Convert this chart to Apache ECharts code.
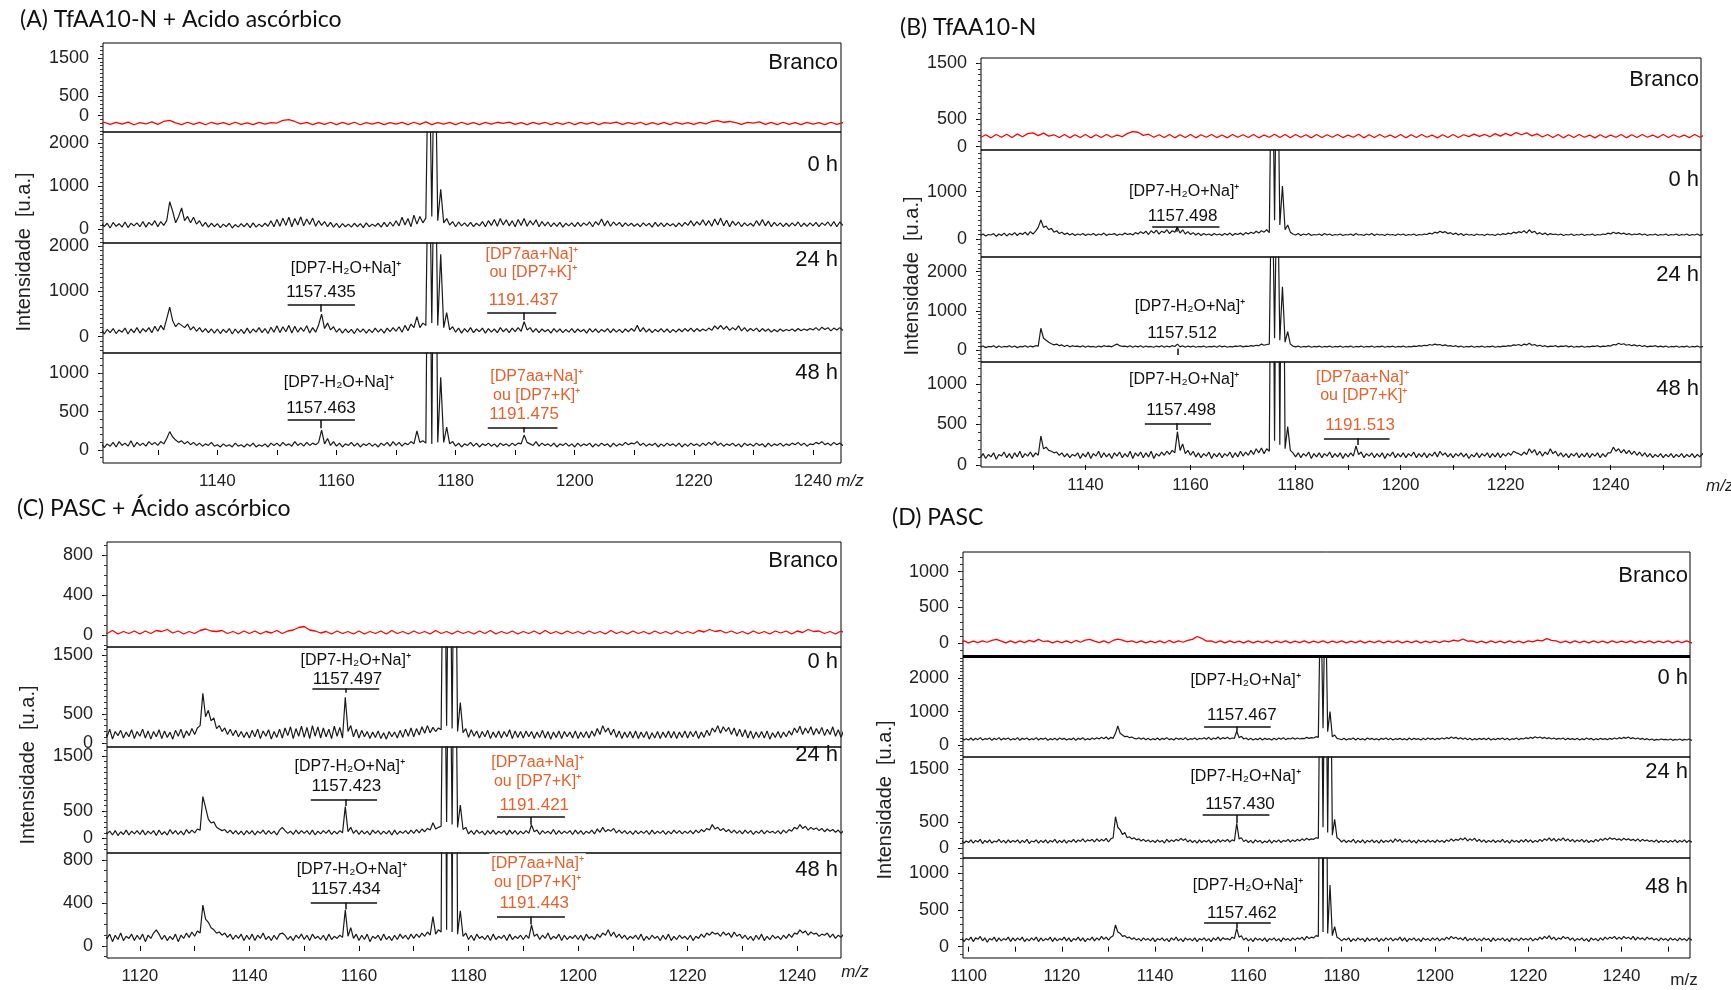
<!DOCTYPE html>
<html><head><meta charset="utf-8">
<script src="https://cdn.jsdelivr.net/npm/echarts@6/dist/echarts.min.js"></script>
<style>html,body{margin:0;padding:0;background:#fff}#c{width:1731px;height:990px}</style>
</head><body><div id="c"></div><script>
// ---------- DATA (m/z step 0.5 for spectra, 1 for blanks; one row = 10 m/z units) ----------
const STEP = 0.5, RED_STEP = 1;
const A_START = 1120, B_START = 1120, C_START = 1110, D_START = 1090;
const A_RED_START = 1120, B_RED_START = 1120, C_RED_START = 1110, D_RED_START = 1090;

const A_branco = [
[-230,-170,-225,-175,-220,-165,-235,-180,-215,-160],
[-225,-150,-120,-185,-230,-170,-225,-175,-235,-170],
[-220,-180,-230,-170,-225,-185,-230,-175,-220,-180],
[-190,-120,-100,-150,-210,-175,-230,-180,-225,-170],
[-230,-175,-225,-170,-235,-180,-220,-175,-230,-180],
[-220,-175,-230,-170,-225,-160,-230,-180,-220,-175],
[-230,-170,-225,-180,-230,-175,-220,-170,-200,-165],
[-225,-180,-230,-175,-220,-170,-230,-180,-225,-170],
[-230,-175,-220,-170,-230,-180,-200,-165,-225,-180],
[-220,-170,-230,-180,-225,-175,-230,-170,-220,-180],
[-225,-175,-210,-150,-130,-170,-150,-180,-225,-175],
[-190,-160,-225,-175,-230,-170,-225,-180,-230,-175],
[-220,-180,-230,-170,-225,-180,-230,-175,-220,-180]];
const A_0h = [
[40,150,60,140,30,160,70,130,50,170,40,140,80,150,60,180,50,160,90,200],
[60,180,90,200,640,420,150,300,495,200,300,150,280,120,200,70,160,50,140,60],
[130,40,120,60,140,30,110,50,130,60,140,40,150,50,120,60,140,70,200,60],
[230,70,260,90,280,60,250,100,290,80,240,110,260,70,200,90,180,60,160,50],
[140,40,130,60,120,50,140,60,130,40,150,60,120,70,140,50,160,60,170,70],
[200,80,280,100,250,60,330,120,300,150,260,5000,300,5000,200,930,150,250,100,180],
[60,170,80,150,70,160,60,140,80,180,60,200,90,230,70,250,100,220,80,200],
[60,230,90,250,70,200,100,220,60,180,80,170,60,150,70,160,50,140,80,150],
[60,160,70,150,90,170,60,180,100,240,80,200,70,170,90,160,60,150,80,140],
[70,130,60,150,80,140,50,160,70,150,60,140,80,130,60,150,70,160,90,200],
[80,180,100,220,90,200,70,240,100,260,80,210,60,190,90,170,60,150,80,140],
[70,200,90,230,80,190,60,160,80,150,60,140,70,150,80,170,60,140,70,150],
[80,160,60,150,90,170,70,180,60,170,90,150,60,140,70,160,80,150,60,140]];
const A_24h = [
[80,170,60,160,90,180,70,150,100,190,60,170,90,200,80,180,110,200,90,230],
[120,250,150,400,650,350,220,300,250,200,280,150,220,120,200,100,180,90,170,80],
[170,70,160,90,180,60,170,80,160,70,190,80,170,100,200,90,180,70,210,100],
[240,90,220,110,250,80,230,100,200,120,240,80,200,100,260,500,180,300,150,220],
[100,180,80,170,90,160,70,180,100,170,80,160,90,190,100,170,80,190,110,200],
[120,220,100,250,130,280,200,440,200,300,250,5000,300,5000,250,1820,200,530,150,220],
[100,190,80,180,100,200,90,170,110,190,80,180,100,170,90,200,110,180,90,190],
[110,200,120,330,150,200,100,180,90,170,110,160,80,180,100,170,90,160,100,180],
[90,170,110,160,80,180,100,170,90,160,110,180,90,170,100,160,90,170,110,180],
[120,250,110,200,100,170,90,160,110,180,100,170,90,160,100,170,110,180,120,190],
[110,180,120,170,130,190,140,240,170,250,160,230,140,200,150,240,130,200,120,180],
[130,190,110,180,120,170,100,160,110,170,120,160,130,170,120,180,130,170,140,180],
[150,200,140,210,160,200,130,190,150,200,140,190,120,180,130,170,120,180,130,170]];
const A_48h = [
[40,90,30,80,50,100,40,110,60,90,50,120,40,100,60,90,50,110,70,100],
[60,110,80,150,240,170,130,100,120,80,110,70,100,60,90,50,80,60,100,50],
[70,40,80,50,70,40,90,50,70,40,80,50,90,40,70,50,80,40,90,60],
[90,50,100,60,80,50,110,60,90,50,100,60,90,70,100,260,80,150,60,110],
[50,90,40,80,60,100,50,90,40,80,60,90,50,80,40,90,60,100,50,110],
[60,100,50,90,70,110,80,250,100,120,90,5000,80,5000,100,950,100,300,80,110],
[50,90,40,80,60,100,50,90,40,80,60,90,50,80,40,90,60,80,50,90],
[60,90,80,195,100,80,60,110,50,90,60,80,50,90,40,80,60,90,50,80],
[40,90,50,80,60,90,40,80,50,90,60,80,40,90,50,80,60,100,70,90],
[80,110,60,90,50,80,60,90,40,80,50,90,60,80,50,90,40,80,50,90],
[60,80,50,90,60,100,70,110,60,90,50,80,60,90,50,80,40,90,60,80],
[50,90,60,80,40,90,50,80,60,90,50,80,60,90,70,100,60,90,50,80],
[70,100,80,110,70,90,60,100,70,90,60,80,70,90,60,80,70,90,60,80]];

const B_branco = [
[165,215,160,220,170,225,165,230,180,235],
[250,200,245,190,215,165,220,160,215,165],
[220,160,215,165,220,170,210,180,240,270],
[260,205,225,170,215,165,220,160,215,165],
[220,160,215,170,220,165,210,160,220,170],
[215,165,220,160,210,170,225,165,220,160],
[220,170,215,160,220,165,215,170,220,165],
[210,170,225,160,215,165,220,170,210,165],
[220,160,215,165,220,170,210,160,215,165],
[220,165,215,180,225,185,220,180,235,190],
[240,200,255,215,250,195,230,175,220,165],
[220,160,215,165,220,170,210,160,215,165],
[210,170,220,160,215,165,220,170,210,165],
[220,165,215,170,210,165,220,170,215,165]];
const B_0h = [
[80,110,70,100,90,120,60,110,80,130,70,120,90,140,80,130,100,150,90,160],
[110,170,250,405,250,280,200,230,150,180,120,150,100,130,90,120,80,110,90,120],
[80,110,90,120,80,110,90,130,80,110,100,120,80,110,90,130,100,120,90,140],
[110,160,120,170,100,180,130,190,110,170,140,200,120,180,150,250,130,200,110,160],
[100,140,90,130,80,120,90,110,80,120,90,110,80,120,90,130,80,120,100,130],
[90,140,110,150,120,170,130,180,150,200,140,5000,400,5000,300,1120,200,300,150,110],
[90,120,80,110,90,120,80,100,90,110,80,120,90,110,80,100,90,110,80,100],
[90,110,80,120,90,100,80,110,90,120,80,110,90,100,80,110,90,100,80,110],
[90,110,80,100,90,110,80,100,90,110,100,130,110,150,130,170,140,160,120,140],
[100,130,90,120,80,110,90,100,80,110,90,100,80,110,90,100,80,110,90,120],
[100,130,110,150,130,160,140,180,130,200,140,170,110,140,100,130,90,120,100,110],
[90,110,80,100,90,110,80,100,90,110,80,100,90,110,80,100,90,110,100,130],
[110,150,120,140,110,130,100,120,90,110,100,120,90,110,80,100,90,110,80,100],
[90,110,80,100,90,110,80,100,90,110,80,100,90,110,80,100,90,110,80,100]];
const B_24h = [
[70,100,60,90,80,110,60,100,70,90,80,110,70,100,60,90,80,110,70,100],
[80,110,100,555,300,250,200,160,130,150,110,130,90,120,80,110,90,100,80,110],
[70,100,80,90,70,100,80,110,90,100,80,120,150,110,90,100,80,110,70,100],
[80,110,70,100,80,90,70,100,80,110,70,100,80,110,90,150,80,110,70,100],
[80,100,70,90,80,100,70,90,80,100,70,110,80,100,70,90,80,100,90,110],
[80,100,90,110,100,120,110,150,120,140,150,5000,300,5000,250,1617,200,470,150,100],
[80,100,70,90,80,100,70,90,80,100,70,90,80,100,70,90,80,100,70,90],
[80,100,70,90,80,100,70,90,80,100,70,90,80,100,70,90,80,100,70,90],
[80,100,70,90,80,100,90,110,100,120,110,140,120,150,130,140,110,130,100,110],
[90,110,80,100,70,90,80,100,70,90,80,100,70,90,80,100,70,90,80,100],
[90,110,100,130,120,140,110,150,130,170,120,140,100,120,90,110,80,100,90,110],
[80,100,90,110,80,100,70,90,80,100,70,90,80,100,90,110,80,100,90,110],
[100,140,130,170,140,160,120,140,110,130,100,120,90,110,80,100,90,110,80,100],
[80,100,70,90,80,100,70,90,80,100,70,90,80,100,70,90,80,100,70,90]];
const B_48h = [
[90,140,80,130,100,150,70,130,110,160,90,140,80,150,100,170,90,140,110,160],
[100,150,120,358,200,220,180,170,150,160,120,150,100,140,90,130,110,150,80,140],
[100,160,80,140,110,170,90,150,100,140,80,150,110,160,90,140,100,170,80,150],
[110,160,90,150,100,170,80,140,110,160,120,170,130,180,150,411,180,260,140,180],
[120,170,100,150,90,140,110,160,80,140,100,150,90,140,110,160,90,150,100,170],
[110,160,120,180,130,200,150,210,140,200,170,5000,300,5000,250,5000,200,473,180,150],
[100,150,90,140,110,160,80,140,100,150,90,140,110,160,90,140,100,150,80,140],
[100,150,110,235,130,160,90,140,110,150,90,140,100,150,80,140,110,160,90,140],
[100,150,90,140,110,160,90,140,100,150,90,140,110,160,100,170,120,150,100,140],
[90,140,110,150,100,140,80,130,100,150,90,140,110,150,90,140,100,150,90,140],
[110,150,120,170,150,140,120,160,130,200,150,190,120,170,110,160,130,200,140,170],
[110,150,100,140,90,140,110,150,90,140,100,150,90,140,110,150,90,140,100,150],
[150,220,170,200,150,190,140,180,130,170,120,160,110,150,100,140,90,130,100,140],
[90,130,100,140,90,130,100,140,90,130,100,140,90,130,100,140,90,130,100,140]];

const C_branco = [
[10,40,5,35,15,45,10,35,15,40],
[10,40,15,45,35,55,20,40,10,35],
[15,45,60,40,35,45,15,35,10,40],
[15,40,10,35,20,45,15,40,50,75],
[85,50,40,20,35,10,40,15,35,10],
[40,10,35,15,40,10,45,15,35,10],
[40,15,35,10,45,15,35,10,40,15],
[35,10,40,15,45,10,35,15,40,10],
[35,15,40,10,45,15,35,10,40,15],
[35,10,40,15,35,10,45,15,35,10],
[40,15,35,10,40,15,35,10,40,15],
[35,15,45,30,55,35,45,20,40,15],
[35,10,40,15,35,10,40,20,40,10],
[40,25,55,35,40,15,35,10,40,15]];
const C_0h = [
[100,220,80,200,120,230,90,210,110,240,70,200,130,220,90,190,110,230,80,200],
[120,240,90,210,70,200,110,230,80,210,100,190,70,220,120,240,90,210,130,250],
[150,260,300,850,450,560,380,430,250,300,200,260,150,240,130,220,110,200,100,190],
[90,220,110,240,80,210,120,230,70,200,100,240,90,260,130,280,80,250,120,290],
[100,270,80,300,120,280,90,260,110,240,80,290,120,270,90,780,200,300,110,240],
[90,220,110,200,80,190,100,210,80,180,70,200,110,190,90,220,100,240,120,260],
[110,250,140,280,170,300,180,270,200,260,230,5000,300,5000,250,5000,200,690,180,250],
[100,230,120,210,90,200,110,220,80,190,100,210,90,200,110,230,80,210,100,200],
[90,210,110,200,80,190,100,220,90,200,70,190,100,210,80,200,110,190,90,210],
[80,190,100,200,90,210,120,250,150,300,190,260,140,240,100,210,80,190,100,200],
[90,210,80,190,100,200,70,180,90,200,80,190,100,210,90,200,80,190,100,210],
[90,200,110,210,80,190,100,220,130,260,190,300,170,280,200,270,150,260,120,240],
[110,230,90,210,80,190,100,200,90,210,70,180,100,200,90,190,110,210,140,260],
[180,290,150,260,170,280,140,250,160,270,130,240,150,280,120,230,100,220,130,250]];
const C_24h = [
[60,130,50,140,70,120,40,150,80,130,60,140,50,120,70,150,60,130,80,140],
[70,150,60,130,80,140,50,150,70,120,60,160,80,140,70,130,60,160,90,150],
[100,170,150,760,560,350,280,300,200,170,140,160,100,150,80,140,70,130,60,140],
[80,140,60,130,90,150,70,140,80,130,60,150,200,140,90,130,70,150,80,140],
[90,140,70,150,60,130,80,140,90,150,70,130,80,140,100,577,120,200,90,150],
[70,140,80,130,60,150,90,140,70,130,80,140,60,150,70,130,90,140,80,150],
[90,160,100,170,120,180,150,285,170,200,220,5000,300,5000,250,5000,200,608,160,200],
[80,140,70,150,90,130,60,140,80,150,70,130,90,140,60,150,80,140,70,130],
[80,140,90,243,120,150,70,140,90,130,80,160,70,140,80,130,90,140,70,150],
[80,140,70,130,90,150,80,170,110,200,120,160,130,180,100,150,90,140,80,130],
[70,140,80,130,90,140,70,150,80,130,90,140,70,130,80,150,90,140,80,130],
[90,140,80,150,100,160,120,180,150,250,170,200,140,180,120,160,100,150,90,140],
[80,150,90,140,70,130,90,150,80,140,100,130,90,140,80,150,100,160,130,200],
[170,250,180,220,150,200,160,190,140,180,120,170,130,160,110,150,90,140,100,150]];
const C_48h = [
[50,110,40,100,60,120,50,90,70,110,40,100,60,120,50,90,70,110,50,100],
[60,110,40,100,70,120,150,110,60,100,50,90,60,110,40,100,70,120,80,130],
[90,140,120,381,250,220,170,150,120,130,100,120,80,110,60,100,70,110,50,100],
[60,110,50,100,70,120,60,90,50,100,60,110,120,100,60,90,50,100,70,110],
[60,100,50,110,70,90,60,100,50,110,60,90,70,100,80,335,90,170,70,110],
[50,100,60,110,40,90,70,100,50,110,60,90,50,100,60,110,70,100,60,110],
[70,110,80,120,90,130,100,273,110,150,130,5000,150,5000,130,5000,110,328,90,120],
[60,100,50,110,70,90,60,100,50,110,60,90,70,100,50,110,60,90,70,100],
[60,100,70,195,90,110,60,100,70,120,60,90,70,110,50,100,60,90,70,100],
[60,100,50,110,70,90,60,110,80,120,100,150,90,130,80,110,70,100,60,90],
[70,100,60,110,50,90,60,100,70,90,50,100,60,110,50,90,60,100,70,90],
[60,100,50,90,70,110,80,120,100,130,110,120,90,130,100,120,80,130,90,110],
[70,100,60,90,50,100,60,110,50,90,60,100,70,90,60,100,70,110,80,120],
[110,150,120,140,100,130,110,120,90,110,100,120,80,110,70,100,80,110,70,100]];

const D_branco = [
[5,35,10,35,5,35,10,30,5,35],
[5,30,10,35,15,40,55,30,5,35],
[5,35,10,40,20,55,25,35,5,30],
[10,35,5,40,15,45,55,30,10,35],
[5,40,60,45,20,35,10,35,5,30],
[10,35,5,40,10,35,15,40,55,95],
[70,30,35,10,35,5,35,10,30,5],
[35,5,30,10,35,5,30,10,35,5],
[30,10,35,5,30,10,35,5,30,10],
[35,5,30,10,35,5,30,10,35,5],
[30,10,35,5,30,10,35,5,30,10],
[30,10,35,20,45,30,60,30,35,10],
[30,5,35,10,30,5,35,10,30,5],
[35,20,45,35,65,40,35,10,30,5],
[35,10,30,5,35,10,30,5,35,10],
[30,10,35,5,30,10,35,5,30,10],
[35,5,30,10,35,5,30,10,35,5]];
const D_0h = [
[150,200,140,190,160,210,150,200,140,190,160,200,150,210,140,190,140,200,150,190],
[150,210,140,200,160,220,150,190,170,210,140,200,160,220,150,200,170,210,150,190],
[160,220,140,200,170,210,150,190,160,220,150,200,170,210,140,190,160,200,150,210],
[170,200,150,190,160,210,140,200,170,220,150,190,160,210,170,220,180,230,190,240],
[170,230,200,350,570,350,300,250,260,220,240,200,180,220,170,210,160,200,150,190],
[160,210,150,200,170,220,160,190,150,210,170,200,160,220,150,190,170,210,160,200],
[180,220,170,230,160,210,180,240,170,220,190,230,180,210,200,420,220,260,180,210],
[160,200,150,190,160,210,150,200,170,190,150,200,160,210,170,220,160,200,180,220],
[170,210,180,200,190,230,200,220,210,250,230,5000,500,5000,400,1000,250,300,200,180],
[160,200,150,190,170,210,150,200,160,190,150,210,170,200,160,190,150,200,170,210],
[160,200,150,190,170,200,160,190,150,210,160,200,170,190,150,200,160,210,170,200],
[160,200,170,210,180,220,190,240,200,230,180,220,170,210,160,200,150,190,160,200],
[170,200,160,210,150,190,160,200,170,210,160,200,150,190,170,210,160,200,180,220],
[190,230,200,250,210,240,200,230,190,220,180,210,170,200,180,210,160,200,170,190],
[160,200,150,190,160,210,170,200,150,190,160,200,170,190,160,200,170,210,180,220],
[190,230,200,240,190,220,180,210,170,200,160,190,150,180,140,170,150,180,160,170],
[150,180,140,170,150,180,140,170,150,180,140,170,150,180,140,170,150,180,140,170]];
const D_24h = [
[110,150,100,140,110,160,100,150,110,140,100,150,110,160,100,150,110,150,100,140],
[110,160,100,150,120,170,90,150,110,160,100,140,120,170,110,150,100,160,110,150],
[120,160,100,150,110,170,90,140,120,160,100,150,110,160,100,150,120,170,100,150],
[110,160,100,150,120,170,110,160,130,180,120,160,140,170,120,180,130,170,140,190],
[120,180,200,600,400,350,260,300,200,220,180,200,160,180,140,170,130,160,120,150],
[110,160,120,150,100,170,120,160,130,170,140,190,150,180,120,160,110,150,100,160],
[110,150,120,160,100,150,110,170,120,160,130,170,120,160,140,475,180,200,130,160],
[110,150,100,160,120,150,100,140,110,160,100,150,120,160,110,150,130,170,120,160],
[130,170,140,180,150,190,160,180,170,200,190,5000,400,5000,300,5000,250,550,200,170],
[120,160,110,150,120,170,100,150,110,160,100,150,120,160,110,150,100,160,110,150],
[120,160,110,180,130,170,110,150,120,160,110,150,100,160,120,150,110,160,120,150],
[110,160,120,150,110,160,130,180,140,170,150,190,160,200,140,180,150,190,130,170],
[120,160,110,150,120,160,110,150,120,170,110,150,100,160,120,150,110,160,120,170],
[120,160,110,150,120,170,130,180,150,200,140,190,130,180,150,200,140,180,130,170],
[120,160,130,170,120,160,110,150,120,170,130,180,150,190,160,200,170,190,160,180],
[150,190,160,180,150,170,140,180,130,170,140,160,130,150,120,160,110,150,120,150],
[110,150,120,160,110,150,120,160,110,150,120,160,110,150,120,160,110,150,120,160]];
const D_48h = [
[80,120,70,110,90,130,80,120,70,110,90,120,80,110,70,120,80,120,70,110],
[90,130,70,120,100,140,80,120,60,110,90,130,70,120,80,110,90,130,70,120],
[80,120,90,130,70,110,80,120,90,130,70,120,80,110,90,130,70,120,80,110],
[90,130,80,120,70,110,90,130,80,120,70,110,90,130,80,120,90,140,100,130],
[90,130,150,296,200,180,140,150,120,130,100,120,90,110,80,120,90,110,80,120],
[70,110,90,120,80,110,70,120,90,130,80,110,70,120,90,110,80,120,70,110],
[90,120,80,110,70,120,90,130,80,120,100,110,90,130,110,250,130,150,90,120],
[80,110,70,120,90,110,80,120,70,110,90,120,80,110,70,120,90,110,80,120],
[90,120,100,130,90,140,110,130,120,150,140,5000,200,5000,180,840,150,272,130,110],
[80,110,90,120,70,110,80,120,90,110,70,120,80,110,90,120,70,110,80,120],
[90,120,80,110,90,130,80,120,70,110,90,120,80,110,70,120,90,110,80,120],
[90,120,80,110,90,130,100,140,110,130,100,120,90,130,80,110,90,120,80,110],
[80,120,90,110,70,120,80,110,90,120,80,110,70,120,90,110,80,120,90,110],
[90,120,80,110,90,130,100,140,110,150,100,130,90,120,100,140,110,130,90,120],
[80,110,90,120,80,110,70,120,90,110,80,120,90,130,100,130,110,140,100,130],
[100,140,110,130,100,140,90,130,100,120,90,130,100,120,90,110,80,120,90,110],
[80,120,90,110,80,120,90,110,80,120,90,110,80,120,90,110,80,120,90,110]];

// tick labels
const A_xlabels = [1140,1160,1180,1200,1220,1240], A_xticks = [1130,1140,1150,1160,1170,1180,1190,1200,1210,1220,1230,1240];
const B_xlabels = [1140,1160,1180,1200,1220,1240], B_xticks = [1130,1140,1150,1160,1170,1180,1190,1200,1210,1220,1230,1240,1250];
const C_xlabels = [1120,1140,1160,1180,1200,1220,1240], C_xticks = [1120,1130,1140,1150,1160,1170,1180,1190,1200,1210,1220,1230,1240];
const D_xlabels = [1100,1120,1140,1160,1180,1200,1220,1240], D_xticks = [1100,1110,1120,1130,1140,1150,1160,1170,1180,1190,1200,1210,1220,1230,1240,1250];
const A_yticks = [[0,500,1500],[0,1000,2000],[0,1000,2000],[0,500,1000]];
const B_yticks = [[0,500,1500],[0,1000],[0,1000,2000],[0,500,1000]];
const C_yticks = [[0,400,800],[0,500,1500],[0,500,1500],[0,400,800]];
const D_yticks = [[0,500,1000],[0,1000,2000],[0,500,1500],[0,500,1000]];
const SUB_NAMES = ['Branco','0 h','24 h','48 h'];

// annotations: [text, m/z, intensity, colour('k'|'o'), whiteBackground]
const FORM = '[DP7-H\u2082O+Na]\u207A', ORA1 = '[DP7aa+Na]\u207A', ORA2 = 'ou [DP7+K]\u207A';
const A24_text = [[FORM,1161.6,1508,'k'],['1157.435',1157.4,986,'k'],[ORA1,1192.8,1801,'o'],[ORA2,1193,1411,'o'],['1191.437',1191.4,803,'o']];
const A24_bars = [[1151.8,1163.1,715,1157.4,550],[1185.3,1196.9,535,1191.4,368]];
const A48_text = [[FORM,1160.4,873,'k'],['1157.463',1157.4,543,'k'],[ORA1,1193.6,956,'o'],[ORA2,1193.6,708,'o'],['1191.475',1191.5,465,'o']];
const A48_bars = [[1151.8,1163.1,391,1157.4,283],[1185.4,1197.1,296,1191.5,230]];
const B0_text = [[FORM,1158.8,1000,'k'],['1157.498',1158.5,490,'k']];
const B0_bars = [[1152.7,1165.5,265,1157.4,160]];
const B24_text = [[FORM,1159.9,1106,'k'],['1157.512',1158.4,426,'k']];
const B24_bars = [[null,null,40,1157.5,-130]];
const B48_text = [[FORM,1158.8,1049,'k'],['1157.498',1158.2,679,'k'],[ORA1,1192.7,1083,'o'],[ORA2,1193,852,'o'],['1191.513',1192.3,485,'o']];
const B48_bars = [[1151.3,1163.9,515,1157.4,432],[1185.4,1197.9,330,1191.8,247]];
const C0_text = [[FORM,1159.4,1402,'k'],['1157.497',1157.9,1087,'k']];
const C0_bars = [[1151.5,1163.7,934,1157.6,860]];
const C24_text = [[FORM,1158.3,1307,'k'],['1157.423',1157.7,942,'k'],[ORA1,1192.6,1378,'o'],[ORA2,1192.6,1035,'o'],['1191.421',1192,611,'o']];
const C24_bars = [[1151.2,1163.3,712,1157.5,590],[1185.2,1197.6,389,1191.4,248]];
const C48_text = [[FORM,1158.7,707,'k'],['1157.434',1157.6,527,'k'],[ORA1,1192.6,769,'o',true],[ORA2,1192.6,589,'o'],['1191.443',1192,397,'o']];
const C48_bars = [[1151.2,1163.3,403,1157.5,340],[1185.2,1197.6,273,1191.4,200]];
const D0_text = [[FORM,1159.4,1928,'k'],['1157.467',1158.6,900,'k']];
const D0_bars = [[1150.5,1164.8,549,1157.6,420]];
const D24_text = [[FORM,1159.4,1360,'k'],['1157.430',1158.2,841,'k']];
const D24_bars = [[1150.2,1164.5,632,1157.6,480]];
const D48_text = [[FORM,1159.9,827,'k'],['1157.462',1158.6,455,'k']];
const D48_bars = [[1150.5,1164.8,327,1157.6,250]];

// ---------- LAYOUT ----------
const FONT = '"Liberation Sans", Arial, sans-serif';
const ORANGE = '#E8602C', INK = '#1a1a1a';
const panels = [
 {left:103, width:738, xMin:1120.8, xMax:1244.7, xl:A_xlabels, xt:A_xticks, start:A_START, redStart:A_RED_START, labelRight:838,
  data:[A_branco,A_0h,A_24h,A_48h], yt:A_yticks,
  subs:[{top:43,h:89,min:-423,max:1888,ly:62.5},{top:132,h:111,min:-319,max:2263,ly:165},{top:243,h:110,min:-359,max:2066,ly:260,ann:[A24_text,A24_bars]},{top:353,h:110,min:-169,max:1265,ly:372.5,ann:[A48_text,A48_bars]}]},
 {left:981, width:720, xMin:1120.1, xMax:1257.2, xl:B_xlabels, xt:B_xticks, start:B_START, redStart:B_RED_START, labelRight:1699,
  data:[B_branco,B_0h,B_24h,B_48h], yt:B_yticks,
  subs:[{top:58,h:92,min:-59,max:1595,ly:79.5},{top:150,h:107,min:-372,max:1876,ly:180,ann:[B0_text,B0_bars]},{top:257,h:105,min:-307,max:2375,ly:275,ann:[B24_text,B24_bars]},{top:362,h:105,min:-25,max:1272,ly:388.6,ann:[B48_text,B48_bars]}]},
 {left:107, width:734, xMin:1114, xMax:1248, xl:C_xlabels, xt:C_xticks, start:C_START, redStart:C_RED_START, labelRight:838,
  data:[C_branco,C_0h,C_24h,C_48h], yt:C_yticks,
  subs:[{top:542,h:105,min:-120,max:930,ly:560.8},{top:647,h:100,min:-63,max:1635,ly:662.4,ann:[C0_text,C0_bars]},{top:747,h:106,min:-268,max:1666,ly:755,ann:[C24_text,C24_bars]},{top:853,h:105,min:-112,max:865,ly:870,ann:[C48_text,C48_bars]}]},
 {left:963, width:727, xMin:1098.8, xMax:1254.7, xl:D_xlabels, xt:D_xticks, start:D_START, redStart:D_RED_START, labelRight:1688,
  data:[D_branco,D_0h,D_24h,D_48h], yt:D_yticks,
  subs:[{top:552,h:104,min:-177,max:1275,ly:576,thick:true},{top:656,h:101,min:-360,max:2669,ly:678,ann:[D0_text,D0_bars]},{top:757,h:101,min:-184,max:1734,ly:771.7,ann:[D24_text,D24_bars]},{top:858,h:100,min:-154,max:1208,ly:886.5,ann:[D48_text,D48_bars]}]}
];

function toXY(rows, start, step){
  const out=[]; rows.forEach((row,r)=>row.forEach((v,j)=>out.push([start + r*10 + j*step, v]))); return out;
}
const plain = v => String(v);

const grids=[], xAxes=[], yAxes=[], series=[], graphic=[];
panels.forEach(p=>{
  p.subs.forEach((s,k)=>{
    const gi = grids.length, bottom = (k===3), red = (k===0);
    grids.push({left:p.left, top:s.top, width:p.width, height:s.h, show:true, borderColor:'#000', borderWidth:1, backgroundColor:'transparent'});
    xAxes.push({type:'value', gridIndex:gi, min:p.xMin, max:p.xMax, show:bottom,
      axisLine:{show:false}, splitLine:{show:false},
      axisTick:{show:true, customValues:p.xt, length:5, lineStyle:{color:'#000'}},
      axisLabel:{show:true, customValues:p.xl, formatter:plain, fontSize:17, color:'#222', margin:10, fontFamily:FONT}});
    const yi = yAxes.length;
    yAxes.push({type:'value', gridIndex:gi, min:s.min, max:s.max, position:'left', offset:0,
      axisLine:{show:false}, splitLine:{show:false},
      axisTick:{show:true, customValues:p.yt[k], length:5, lineStyle:{color:'#000'}},
      axisLabel:{show:true, customValues:p.yt[k], formatter:plain, fontSize:18, color:'#222', margin:14, fontFamily:FONT}});
    const minor=[]; for(let v=Math.ceil(s.min/100)*100; v<=s.max; v+=100) minor.push(v);
    yAxes.push({type:'value', gridIndex:gi, min:s.min, max:s.max, position:'left', offset:0,
      axisLine:{show:false}, splitLine:{show:false}, axisLabel:{show:false},
      axisTick:{show:true, customValues:minor, length:3, lineStyle:{color:'#333'}}});
    const ser = {type:'line', xAxisIndex:gi, yAxisIndex:yi, symbol:'none', showSymbol:false, silent:true, animation:false, clip:true,
      data: red ? toXY(p.data[k], p.redStart, RED_STEP) : toXY(p.data[k], p.start, STEP),
      lineStyle:{width: red ? 1.3 : 1.2, color: red ? '#ff0000' : INK}};
    if (s.thick){
      ser.markLine = {silent:true, animation:false, symbol:['none','none'], label:{show:false}, lineStyle:{type:'solid', color:'#000', width:3}, data:[{yAxis:s.min}]};
    }
    if (s.ann){
      const [texts, bars] = s.ann;
      const ml=[];
      bars.forEach(b=>{ if(b[0]!=null) ml.push([{coord:[b[0],b[2]]},{coord:[b[1],b[2]]}]); ml.push([{coord:[b[3],b[2]]},{coord:[b[3],b[4]]}]); });
      ser.markLine = {silent:true, animation:false, symbol:['none','none'], label:{show:false}, lineStyle:{type:'solid', color:'#111', width:1.5}, data:ml};
      ser.markPoint = {silent:true, animation:false, symbol:'circle', symbolSize:1, itemStyle:{color:'rgba(0,0,0,0)'},
        data: texts.map(t=>({name:t[0], coord:[t[1],t[2]],
          label:{show:true, position:'inside', formatter:pp=>pp.name, fontFamily:FONT,
            fontSize: /^[\d.]+$/.test(t[0]) ? 17 : 16, color: t[3]==='o' ? ORANGE : '#111',
            backgroundColor: t[4] ? '#fff' : 'transparent', padding: t[4] ? [3,2,1,2] : 0}}))};
    }
    series.push(ser);
    graphic.push({type:'text', x:p.labelRight, y:s.ly, silent:true,
      style:{text:SUB_NAMES[k], font:'22px '+FONT, fill:'#111', textAlign:'right', textVerticalAlign:'middle', align:'right', verticalAlign:'middle'}});
  });
});

const TITLES = [['(A) TfAA10-N + Acido ascórbico',20,20],['(B) TfAA10-N',900,28],['(C) PASC + Ácido ascórbico',17,509],['(D) PASC',892,518]];
TITLES.forEach(t=>graphic.push({type:'text', x:t[1], y:t[2], silent:true,
  style:{text:t[0], font:'23px Lato, "Open Sans", sans-serif', fill:'#111', textVerticalAlign:'middle', verticalAlign:'middle'}}));
const YTITLES = [[24,252],[912,276],[28,765],[885,800]];
YTITLES.forEach(t=>graphic.push({type:'text', x:t[0], y:t[1], rotation:Math.PI/2, silent:true,
  style:{text:'Intensidade  [u.a.]', font:'20px '+FONT, fill:'#222', textAlign:'center', textVerticalAlign:'middle', align:'center', verticalAlign:'middle'}}));
const MZ = [[850,481,'center','italic'],[1706,486,'left','italic'],[855,972,'center','italic'],[1684,980,'center','normal']];
MZ.forEach(t=>graphic.push({type:'text', x:t[0], y:t[1], silent:true,
  style:{text:'m/z', font:t[3]+' 17px '+FONT, fill:'#222', textAlign:t[2], textVerticalAlign:'middle', align:t[2], verticalAlign:'middle'}}));

const chart = echarts.init(document.getElementById('c'), null, {renderer:'canvas'});
chart.setOption({animation:false, backgroundColor:'#fff', grid:grids, xAxis:xAxes, yAxis:yAxes, series, graphic});
</script></body></html>
